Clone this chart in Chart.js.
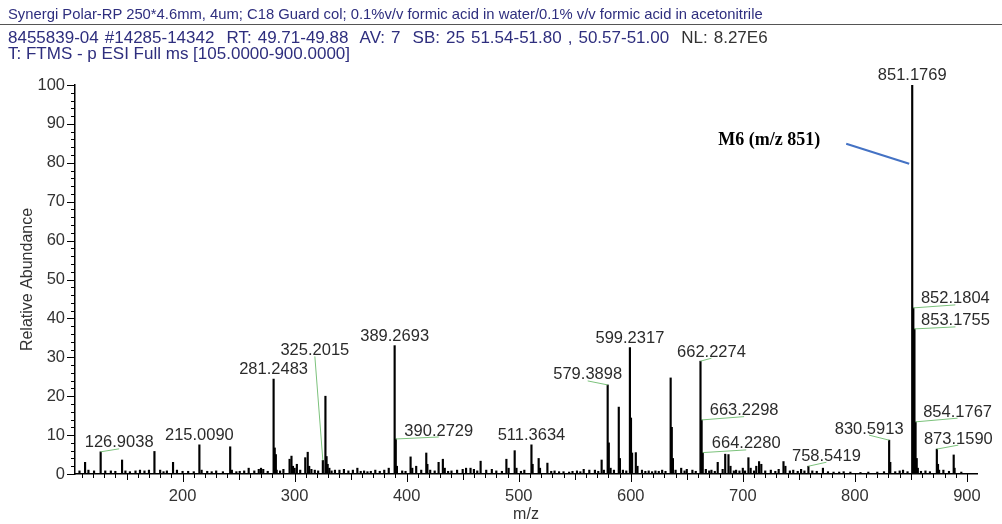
<!DOCTYPE html>
<html>
<head>
<meta charset="utf-8">
<script src="https://cdn.jsdelivr.net/npm/chart.js@4.4.0/dist/chart.umd.min.js"></script>
<style>
body{margin:0;background:#fff;}
#wrap{position:relative;width:1002px;height:524px;overflow:hidden;}
#spec{position:absolute;left:0;top:0;}
.hd{position:absolute;left:8px;font-family:"Liberation Sans",Arial,sans-serif;white-space:nowrap;color:#2e2e7e;line-height:1.15;}
#l1{top:6px;font-size:14.8px;}
#rule{position:absolute;left:0;top:24px;width:1002px;border-top:1.5px solid #555;}
#l2{top:28px;font-size:17px;word-spacing:1.3px;}
#l3{top:44px;font-size:17px;}
#l2 .nl{color:#333;}
</style>
</head>
<body>
<div id="wrap">
<canvas id="spec" width="1002" height="524"></canvas>
<div class="hd" id="l1">Synergi Polar-RP 250*4.6mm, 4um; C18 Guard col; 0.1%v/v formic acid in water/0.1% v/v formic acid in acetonitrile</div>
<div id="rule"></div>
<div class="hd" id="l2">8455839-04 #14285-14342&nbsp; RT: 49.71-49.88&nbsp; AV: 7&nbsp; SB: 25 51.54-51.80 , 50.57-51.00&nbsp; <span class="nl">NL: 8.27E6</span></div>
<div class="hd" id="l3">T: FTMS - p ESI Full ms [105.0000-900.0000]</div>
</div>
<script>
// centroid peaks: m/z and relative abundance (%)
const peakMz=[108,113.0,116,121,126.9038,131,136,140,146.0,149,153,158,162,166,170,174.9,180,183,186,191.5,195,200,205,210,215.0090,217,222,226,230,236,242.5,244,248,251,255,259,264,268,270,272,276,
281.2483,282.25,283.25,284,287,290,295.5,297.2,298.5,300,302,305,309.5,311.7,313,315,318,321,325.2015,327.5,328.5,329.5,331,333,336,340,344,348,352,356,359,362,365,368,372,376,380,384,
389.2693,390.2729,391.3,396,399,403.5,405,408.5,413,417.5,418.5,421,425,428.5,432.3,434,437,440,445,450,453,457,460,463,466,471,476,480,485,489,491,496.4,498,502,505,
511.3634,512.4,517.8,519,525.6,529,532,536,540,545,548,552,555,558,563,568,571,574,576,579.3898,580.4,582,585,589.3,590.3,593,596,599.2317,600.2,601.2,604.5,606,610,613,616,619,622,625,628,631,
635.6,636.6,637.6,640,645,648,650,655,658,662.2274,663.2298,664.2280,667,670,672,675,677.6,682,684.3,687.2,689,692,694,697,700,702,705,707,710,712,714.5,716.5,720,725,729,732,736.3,738,742,745,749,752,755,
758.5419,762,766,771.5,776,781,786,790,796,805,812,820,826,830.5913,831.6,836,840,843,847,851.1769,852.1804,853.1755,854.1767,855.2,856.2,859,863,867,873.1590,874.2,875.2,879,884,888.2,889,895];
const peakAbund=[0.8,3.0,1.0,0.8,5.7,0.8,0.8,0.7,3.6,0.8,0.6,0.8,1.0,0.8,1.0,5.8,1.0,0.6,0.8,3.0,1.0,0.7,0.7,0.6,7.5,1.0,0.7,0.6,0.8,0.6,7.0,1.0,0.6,0.7,0.8,1.5,0.8,1.2,1.5,1.2,0.7,
24.4,6.7,5.0,1.0,0.8,1.2,3.8,4.6,2.0,1.5,2.5,1.0,4.2,5.6,2.0,1.2,1.0,0.8,3.5,20.0,4.5,2.5,1.5,0.8,1.0,1.0,1.2,0.8,1.0,1.5,0.7,0.8,0.6,0.7,1.0,0.7,1.0,1.5,
33.0,9.0,2.0,0.8,0.7,4.4,1.5,2.0,1.0,5.4,2.5,1.0,0.8,3.0,3.8,1.5,0.7,0.8,1.0,1.2,1.5,1.5,1.2,0.8,3.3,1.0,1.2,0.8,0.7,3.8,1.5,6.0,1.5,0.7,1.0,
7.5,2.5,4.0,1.5,2.8,0.7,0.8,0.6,0.6,0.5,0.7,0.8,0.6,1.2,1.0,1.0,0.7,3.6,1.0,22.9,8.0,1.5,1.0,17.2,4.0,1.0,0.8,32.5,14.4,5.4,5.5,2.0,1.0,0.7,0.8,0.6,0.8,0.7,1.0,0.7,
24.7,12.0,4.0,1.0,1.5,0.8,1.2,1.0,0.7,29.0,13.9,5.5,1.2,0.8,1.0,0.7,3.0,1.2,5.1,5.0,2.0,0.8,1.0,0.8,1.5,0.8,4.2,1.5,0.8,2.0,3.2,2.5,0.8,1.0,0.7,1.2,3.2,2.0,0.8,1.0,0.7,1.2,0.8,
2.0,0.8,0.7,1.5,0.6,0.5,0.5,0.6,0.5,0.4,0.5,0.5,0.6,8.7,3.0,0.6,0.8,1.0,0.6,100,42.7,37.3,13.4,4.0,1.5,0.7,0.8,0.6,6.4,2.5,1.0,1.0,0.7,4.9,1.5,0.5];

// annotated peaks
const peakLabels=['126.9038','215.0090','281.2483','325.2015','389.2693','390.2729','511.3634','579.3898','599.2317',
'662.2274','663.2298','664.2280','758.5419','830.5913','851.1769','852.1804','853.1755','854.1767','873.1590'];

const yTicks=[0,10,20,30,40,50,60,70,80,90,100];
const xTicks=[200,300,400,500,600,700,800,900];

const FONT='"Liberation Sans", Arial, sans-serif';

// text offset from peak top; labels in this table get a green leader line
const labelPlace={
  '126.9038':[18.5,-9],'325.2015':[-8,-110],'390.2729':[43,-8],'579.3898':[-20,-10],
  '662.2274':[11,-9],'663.2298':[42.5,-9.3],'664.2280':[43.5,-8.7],'758.5419':[18,-10],
  '830.5913':[-20,-11],'852.1804':[42,-9],'853.1755':[41,-8],'854.1767':[42,-9.7],'873.1590':[21.5,-10]
};

const msDecor={
  id:'msDecor',
  afterDraw(chart){
    const {ctx,chartArea:a,scales:{x,y}}=chart;
    ctx.save();
    // minor ticks
    ctx.strokeStyle='#000';ctx.lineWidth=1;
    ctx.beginPath();
    for(let v=0;v<=100;v+=2){
      const py=Math.round(y.getPixelForValue(v))+0.5;
      const len=v%10===0?8:4;
      ctx.moveTo(a.left-len,py);ctx.lineTo(a.left,py);
    }
    for(let v=110;v<=900;v+=10){
      const px=Math.round(x.getPixelForValue(v))+0.5;
      const len=v%100===0?8:(v%50===0?6:4);
      ctx.moveTo(px,a.bottom);ctx.lineTo(px,a.bottom+len);
    }
    ctx.stroke();

    // peak labels
    ctx.font='16.5px '+FONT;
    ctx.textAlign='center';ctx.textBaseline='middle';
    peakLabels.forEach(t=>{
      const m=parseFloat(t);
      const i=peakMz.indexOf(m);
      const px=x.getPixelForValue(m),py=y.getPixelForValue(peakAbund[i]);
      const place=labelPlace[t];
      const [dx,dy]=place||[0,-9.5];
      const tx=px+dx,ty=py+dy;
      if(place){
        ctx.strokeStyle='#7cc27c';ctx.lineWidth=1;
        ctx.beginPath();ctx.moveTo(px,py);ctx.lineTo(tx,ty+6);ctx.stroke();
      }
      ctx.fillStyle='#2b2b2b';
      ctx.fillText(t,tx,ty);
    });

    // M6 callout
    const x851=x.getPixelForValue(851.1769),y80=y.getPixelForValue(80);
    ctx.strokeStyle='#4472c4';ctx.lineWidth=2;
    ctx.beginPath();ctx.moveTo(x851-66,y80-19);ctx.lineTo(x851-3,y80+1);ctx.stroke();
    ctx.font='bold 18px "Liberation Serif", "Times New Roman", serif';
    ctx.fillStyle='#000';
    ctx.fillText('M6 (m/z 851)',x851-143,y80-22);
    ctx.restore();
  }
};

const ctx=document.getElementById('spec');
const spectrum=new Chart(ctx,{
  type:'bar',
  data:{
    datasets:[{
      data:peakMz.map((m,i)=>({x:m,y:peakAbund[i]})),
      backgroundColor:'#000',
      borderWidth:0,
      barThickness:1.5
    }]
  },
  options:{
    responsive:false,
    animation:false,
    events:[],
    layout:{padding:{top:85,right:25,left:0,bottom:0}},
    plugins:{legend:{display:false},tooltip:{enabled:false}},
    scales:{
      x:{
        type:'linear',min:104,max:909,offset:false,bounds:'data',
        afterFit(s){s.height=50;},
        afterBuildTicks(s){s.ticks=xTicks.map(v=>({value:v}));},
        grid:{display:false,drawTicks:false},
        border:{display:true,color:'#000',width:1.5},
        ticks:{padding:13,color:'#333',maxRotation:0,autoSkip:false,font:{size:16.5,family:FONT}},
        title:{display:true,text:'m/z',color:'#333',font:{size:16,family:FONT},padding:{top:0,bottom:0}}
      },
      y:{
        min:0,max:100,
        afterFit(s){s.width=75;},
        afterBuildTicks(s){s.ticks=yTicks.map(v=>({value:v}));},
        grid:{display:false,drawTicks:false},
        border:{display:true,color:'#000',width:1.5},
        ticks:{padding:10,color:'#333',font:{size:16.5,family:FONT}},
        title:{display:true,text:'Relative Abundance',color:'#333',font:{size:16,family:FONT},padding:{top:18,bottom:0}}
      }
    }
  },
  plugins:[msDecor]
});
</script>
</body>
</html>
